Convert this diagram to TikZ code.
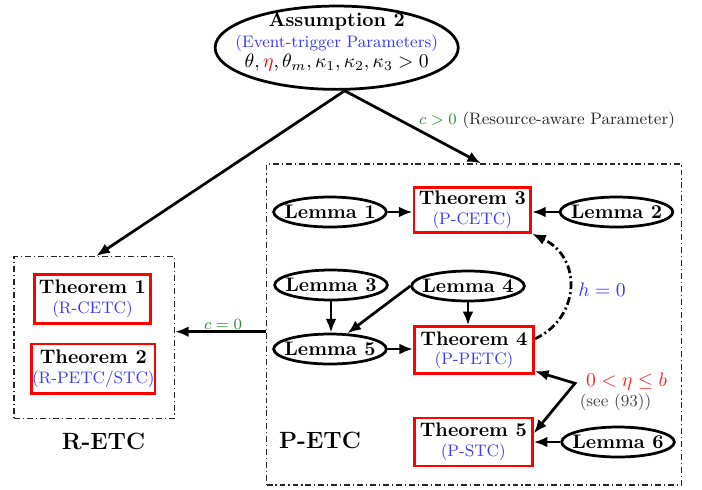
\documentclass[tikz,border=0pt]{standalone}
\usetikzlibrary{arrows.meta,shapes.geometric,calc}
\definecolor{subblue}{RGB}{55,55,255}
\definecolor{pgreen}{RGB}{45,140,45}
\definecolor{pred}{RGB}{255,35,35}
\definecolor{tgray}{RGB}{70,70,70}
\definecolor{rgray}{RGB}{40,40,40}
\newcommand{\subl}[1]{{\fontsize{8.5}{10}\selectfont\mdseries\color{subblue}#1}}
\begin{document}
\begin{tikzpicture}[x=0.51pt,y=-0.51pt,
 lem/.style={ellipse,draw,line width=1.4pt,minimum width=57.5pt,minimum height=15.3pt,inner xsep=-6pt,inner ysep=0pt,font=\bfseries},
 thm/.style={rectangle,draw=red,line width=1.4pt,align=center,inner sep=0pt,font=\bfseries},
 grp/.style={rectangle,draw=black!85,line width=0.6pt,dash pattern=on 3pt off 1.5pt on 0.6pt off 1.5pt,inner sep=0pt},
 arr/.style={-{Latex[length=7pt,width=5.5pt]},line width=1.4pt},
 dblarr/.style={{Latex[length=7pt,width=5.5pt]}-{Latex[length=7pt,width=5.5pt]},line width=1.4pt},
 dasharr/.style={-{Latex[length=7pt,width=5.5pt]},line width=1.4pt,dash pattern=on 4pt off 1.6pt on 1pt off 1.6pt},
 grplabel/.style={font=\large\bfseries},
 smalltxt/.style={font=\fontsize{8.5}{10}\selectfont}
]
\useasboundingbox (0,0) rectangle (702,489);

% Assumption
\node[ellipse,draw,line width=1.4pt,minimum width=124pt,minimum height=42.5pt,inner sep=0pt] (asm) at (336.7,47.7) {};
\node[align=center,inner sep=0pt] (asmtext) at (336.7,41.7)
 {\textbf{Assumption 2}\\[-1pt]
  \subl{(Event-trigger Parameters)}\\[-2pt]
  $\theta,{\color{red}\eta},\theta_m,\kappa_1,\kappa_2,\kappa_3>0$};
\coordinate (apex) at ($(asm.south)+(8,0)$);

% group boxes
\node[grp,minimum width=81.8pt,minimum height=82.5pt] (retc) at (94.2,337.5) {};
\node[grp,minimum width=211.7pt,minimum height=163.7pt] (petc) at (474.2,324.5) {};
\node[grplabel] (retclabel) at (103.5,441.5) {R-ETC};
\node[grplabel] (petclabel) at (320,440) {P-ETC};

% R-ETC theorems
\node[thm,minimum width=59.4pt,minimum height=25.3pt] (t1) at (92.5,299) {Theorem 1\\[-2pt]\subl{(R-CETC)}};
\node[thm,minimum width=62.9pt,minimum height=25.1pt] (t2) at (93.3,368.7) {Theorem 2\\[-2pt]\subl{(R-PETC/STC)}};

% P-ETC theorems
\node[thm,minimum width=59.5pt,minimum height=23pt] (t3) at (472.3,209.8) {Theorem 3\\[-2pt]\subl{(P-CETC)}};
\node[thm,minimum width=60.7pt,minimum height=24pt] (t4) at (474,350.3) {Theorem 4\\[-2pt]\subl{(P-PETC)}};
\node[thm,minimum width=60.2pt,minimum height=24.5pt] (t5) at (473.3,442) {Theorem 5\\[-2pt]\subl{(P-STC)}};

% lemmas
\node[lem] (l1) at (330,212) {Lemma 1};
\node[lem] (l2) at (616.5,212) {Lemma 2};
\node[lem] (l3) at (331,285) {Lemma 3};
\node[lem] (l4) at (468,286) {Lemma 4};
\node[lem] (l5) at (330,349) {Lemma 5};
\node[lem] (l6) at (618,442) {Lemma 6};

% top arrows
\draw[arr] (apex) -- ($(retc.north)+(2,0)$);
\draw[arr] (apex) -- ($(petc.north)+(7,0)$);
\node[smalltxt,text=rgray,inner sep=0pt] (cpos) at (547,120) {$\color{pgreen}c>0$ (Resource-aware Parameter)};

% c = 0
\coordinate (cz) at (220,331.7);
\draw[arr] (petc.west |- cz) -- (retc.east |- cz);
\node[smalltxt,text=pgreen,inner sep=0pt] (czero) at (223,324) {$c=0$};

% lemma arrows
\draw[arr] (l1.east) -- (l1.east -| t3.west);
\draw[arr] (l2.west) -- (l2.west -| t3.east);
\draw[arr] (l3.south) -- (l3.south |- l5.north);
\draw[arr] (l4.west) -- (l5.42);
\draw[arr] (l4.south) -- (l4.south |- t4.north);
\draw[arr] (l5.east) -- (l5.east -| t4.west);
\draw[arr] (l6.west) -- (l6.west -| t5.east);

% h = 0
\draw[dasharr] ($(t4.north east)!0.27!(t4.south east)$) .. controls (580,318) and (583,258) .. (t3.south east);
\node[text=subblue,inner sep=0pt] (hzero) at (602,290) {$h=0$};

% eta condition
\coordinate (bend) at (575,383.3);
\draw[dblarr] ($(t4.north east)!0.92!(t4.south east)$) -- (bend) -- ($(t5.north east)!0.33!(t5.south east)$);
\node[text=pred,inner sep=0pt] (etacond) at (626.5,382) {$0<\eta\leq b$};
\node[smalltxt,text=tgray,inner sep=0pt] (see93) at (615.5,402) {(see (93))};
\end{tikzpicture}
\end{document}
